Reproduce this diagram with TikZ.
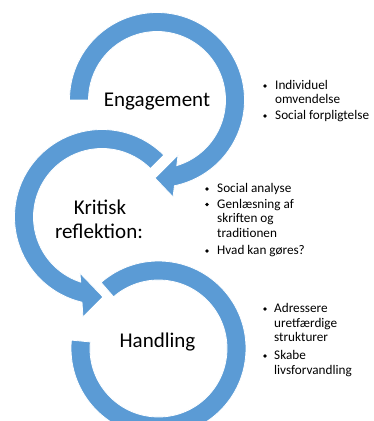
\documentclass[tikz,border=0pt]{standalone}
\usepackage{fontspec}
\setmainfont{Carlito}
\definecolor{ringblue}{HTML}{5B9BD5}
\tikzset{
  ring/.style={fill=ringblue, draw=white, line width=0.8pt, line join=miter},
  biglabel/.style={font=\fontsize{21}{24}\selectfont, inner sep=0pt},
  itemtext/.style={font=\fontsize{13.2}{14.5}\selectfont, inner sep=0pt, anchor=base west},
  dot/.style={fill=black, circle, inner sep=0pt, minimum size=3.8pt}
}
\begin{document}
\begin{tikzpicture}[x=1pt,y=1pt]
\useasboundingbox (0,0) rectangle (373,421);
% ring 3 (Handling)
\begin{scope}[shift={(158.5,72.5)}]
\fill[ring] (131:87.5) arc[start angle=131, end angle=-185.5, radius=87.5]
  -- (-185.5:68.5) arc[start angle=-185.5, end angle=131, radius=68.5] -- cycle;
\end{scope}
% ring 2 (Kritisk refleksion)
\begin{scope}[shift={(102,204)}]
\fill[ring] (45:87.5) arc[start angle=45, end angle=256.8, radius=87.5]
  -- (259.2:101.8) -- (270.7:80) -- (248.5:60.2)
  -- (251.9:68.5) arc[start angle=251.9, end angle=45, radius=68.5] -- cycle;
\end{scope}
% ring 1 (Engagement)
\begin{scope}[shift={(157,321)}]
\fill[ring] (180:87.5) arc[start angle=180, end angle=-78.5, radius=87.5]
  -- (-80.6:98.3) -- (-91.5:78) -- (-69:58.9)
  -- (-73.2:68.5) arc[start angle=-73.2, end angle=180, radius=68.5] -- cycle;
\end{scope}
% main labels
\node[biglabel, anchor=base] (eng) at (157,314) {Engagement};
\node[biglabel, anchor=base] (krit1) at (100,206) {Kritisk};
\node[biglabel, anchor=base] (krit2) at (99,182) {reflektion:};
\node[biglabel, anchor=base] (hand) at (157.5,74) {Handling};
% list 1
\node[dot] (b11) at (265,335) {};
\node[itemtext] (t11) at (275,331) {Individuel};
\node[itemtext] (t12) at (275,317) {omvendelse};
\node[dot] (b12) at (265,305) {};
\node[itemtext] (t13) at (275,301) {Social forpligtelse};
% list 2
\node[dot] (b21) at (207,232) {};
\node[itemtext] (t21) at (217,228) {Social analyse};
\node[dot] (b22) at (207,216.5) {};
\node[itemtext] (t22) at (217,212.5) {Genlæsning af};
\node[itemtext] (t23) at (217,198) {skriften og};
\node[itemtext] (t24) at (217,183.5) {traditionen};
\node[dot] (b23) at (207,170) {};
\node[itemtext] (t25) at (217,166) {Hvad kan gøres?};
% list 3
\node[dot] (b31) at (265,112) {};
\node[itemtext] (t31) at (274,108) {Adressere};
\node[itemtext] (t32) at (274,93) {uretfærdige};
\node[itemtext] (t33) at (274,79) {strukturer};
\node[dot] (b32) at (265,65) {};
\node[itemtext] (t34) at (274,61) {Skabe};
\node[itemtext] (t35) at (274,46) {livsforvandling};
\end{tikzpicture}
\end{document}
